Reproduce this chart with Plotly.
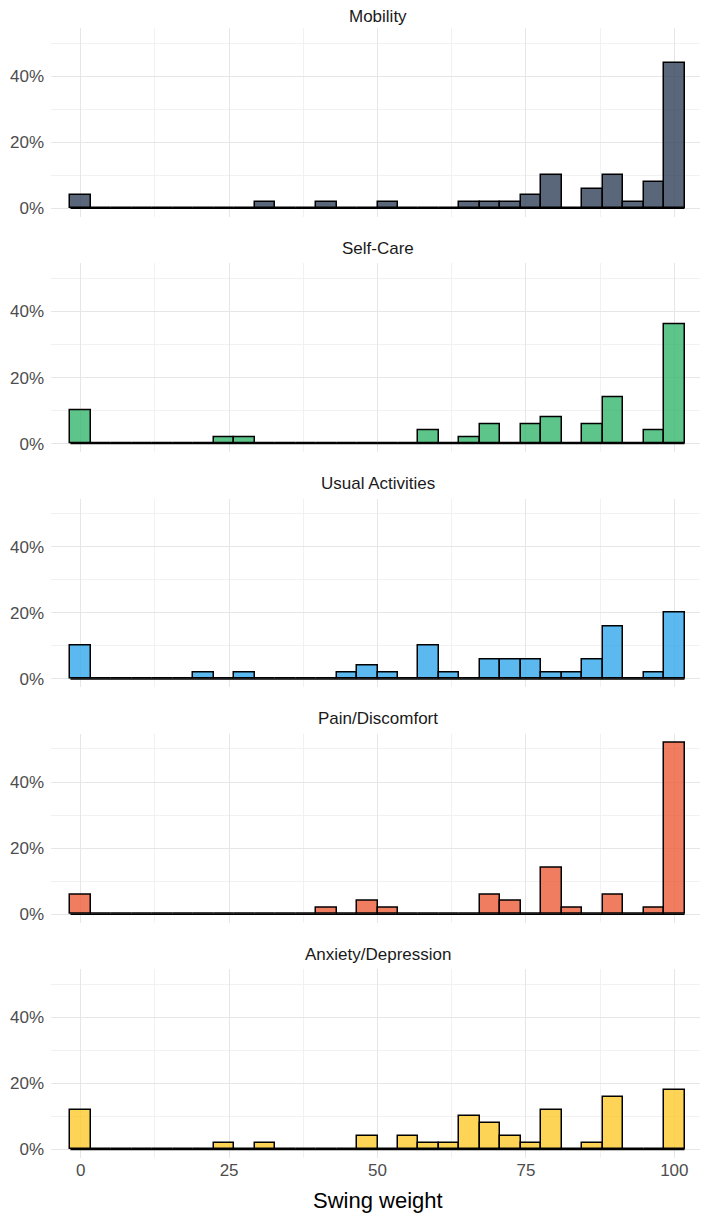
import numpy as np
import plotly.graph_objects as go
from plotly.subplots import make_subplots

# Histogram of swing weights per EQ-5D dimension (30 bins over 0-100, percent of respondents)
dimensions = ["Mobility", "Self-Care", "Usual Activities", "Pain/Discomfort", "Anxiety/Depression"]

mobility_pct = [4, 0, 0, 0, 0, 0, 0, 0, 0, 2, 0, 0, 2, 0, 0, 2, 0, 0, 0, 2,
                2, 2, 4, 10, 0, 6, 10, 2, 8, 44]
selfcare_pct = [10, 0, 0, 0, 0, 0, 0, 2, 2, 0, 0, 0, 0, 0, 0, 0, 0, 4, 0, 2,
                6, 0, 6, 8, 0, 6, 14, 0, 4, 36]
usual_pct = [10, 0, 0, 0, 0, 0, 2, 0, 2, 0, 0, 0, 0, 2, 4, 2, 0, 10, 2, 0,
             6, 6, 6, 2, 2, 6, 16, 0, 2, 20]
pain_pct = [6, 0, 0, 0, 0, 0, 0, 0, 0, 0, 0, 0, 2, 0, 4, 2, 0, 0, 0, 0,
            6, 4, 0, 14, 2, 0, 6, 0, 2, 52]
anxiety_pct = [12, 0, 0, 0, 0, 0, 0, 2, 0, 2, 0, 0, 0, 0, 4, 0, 4, 2, 2, 10,
               8, 4, 2, 12, 0, 2, 16, 0, 0, 18]

series = [mobility_pct, selfcare_pct, usual_pct, pain_pct, anxiety_pct]
colors = ["rgba(44,60,84,0.78)", "rgba(53,182,109,0.8)", "rgba(50,167,236,0.8)",
          "rgba(238,92,56,0.8)", "rgba(252,201,44,0.8)"]

x_ticks = [0, 25, 50, 75, 100]
y_ticks = [0, 20, 40]
y_labels = ["0%", "20%", "40%"]

# 30 bins, first centred on 0 and last on 100 (ggplot default)
n_bins = 30
bin_w = 100 / (n_bins - 1)
centers = np.arange(n_bins) * bin_w
edges = [centers[0] - bin_w / 2, centers[-1] + bin_w / 2]

fig = make_subplots(rows=5, cols=1, shared_xaxes=True, vertical_spacing=0.041)

grid = "#e6e6e6"
minor_grid = "#f1f1f1"
font_fam = "Liberation Sans, Arial, sans-serif"

for i, (name, vals, col) in enumerate(zip(dimensions, series, colors), start=1):
    # baseline where empty bins sit
    fig.add_trace(go.Scatter(x=edges, y=[0, 0], mode="lines",
                             line=dict(color="black", width=1.5),
                             hoverinfo="skip", showlegend=False), row=i, col=1)
    fig.add_trace(go.Bar(x=centers, y=vals, width=bin_w, marker_color=col,
                         marker_line=dict(color="black", width=1.5),
                         name=name, showlegend=False), row=i, col=1)
    fig.add_annotation(text=name, x=50, xref=f"x{'' if i == 1 else i}",
                       y=1, yref=f"y{'' if i == 1 else i} domain",
                       yanchor="middle", yshift=12 if i == 1 else 15, showarrow=False,
                       font=dict(size=17, color="#1a1a1a", family=font_fam))

fig.update_xaxes(range=[-5, 105], tickvals=x_ticks, showline=False, zeroline=False,
                 gridcolor=grid, gridwidth=1.4, ticks="", automargin=False,
                 minor=dict(tickvals=[12.5, 37.5, 62.5, 87.5], showgrid=True,
                            gridcolor=minor_grid, gridwidth=0.8),
                 tickfont=dict(size=17, color="#4d4d4d", family=font_fam))
fig.update_yaxes(range=[-2.6, 54.6], tickvals=y_ticks, ticktext=y_labels,
                 showline=False, zeroline=False, gridcolor=grid, gridwidth=1.4,
                 ticks="", ticklabelstandoff=6, automargin=False,
                 minor=dict(tickvals=[10, 30, 50], showgrid=True,
                            gridcolor=minor_grid, gridwidth=0.8),
                 tickfont=dict(size=17, color="#4d4d4d", family=font_fam))

fig.add_annotation(text="Swing weight", x=0.5, xref="paper", y=0, yref="paper",
                   yanchor="middle", yshift=-42, showarrow=False,
                   font=dict(size=22, color="black", family=font_fam))

# page body has an 8px default margin, so the figure is shifted by 8px
fig.update_layout(
    width=700, height=1208,
    margin=dict(l=43, r=4, t=20, b=58, autoexpand=False),
    plot_bgcolor="white", paper_bgcolor="white",
    font=dict(family=font_fam),
    bargap=0,
)

fig.write_html("out.html")
